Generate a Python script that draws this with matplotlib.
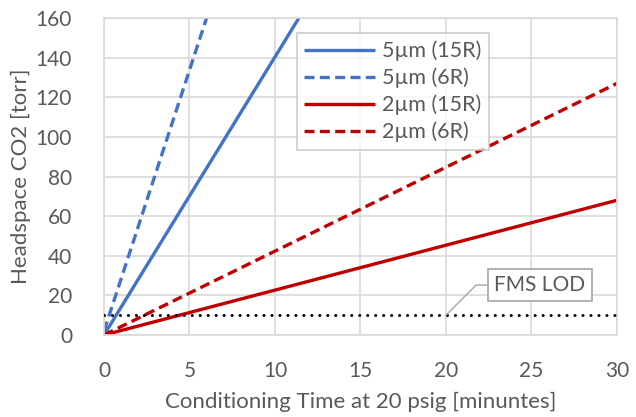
import matplotlib
matplotlib.use('Agg')
import matplotlib.pyplot as plt

plt.rcParams['font.family'] = ['Lato', 'DejaVu Sans']

# series (time in minutes, headspace CO2 in torr)
t_5um_15r = [0, 11.4]
p_5um_15r = [0, 160]
t_5um_6r = [0, 6.0]
p_5um_6r = [2, 160]
t_2um_15r = [0, 30]
p_2um_15r = [0, 68]
t_2um_6r = [0, 30]
p_2um_6r = [0, 127]
lod = 10
lod_x = 20

blue = '#4472C4'
red = '#C00000'
grey = '#595959'
grid = '#D9D9D9'

fig = plt.figure(figsize=(6.36, 4.17), dpi=100)
ax = fig.add_axes([0.1635, 0.1966, 0.8065, 0.7602])

ax.plot(t_5um_15r, p_5um_15r, color=blue, lw=2.4, label='5µm (15R)', solid_capstyle='butt')
ax.plot(t_5um_6r, p_5um_6r, color=blue, lw=2.4, ls=(0, (3, 1.6)), label='5µm (6R)')
ax.plot(t_2um_15r, p_2um_15r, color=red, lw=2.4, label='2µm (15R)', solid_capstyle='butt')
ax.plot(t_2um_6r, p_2um_6r, color=red, lw=2.4, ls=(0, (3, 1.6)), label='2µm (6R)')
ax.axhline(lod, color='black', lw=2.2, ls=(0, (0.01, 2.6)), dash_capstyle='round', zorder=3)

ax.set_xlim(0, 30)
ax.set_ylim(0, 160)
ax.set_xticks(range(0, 31, 5))
ax.set_yticks(range(0, 161, 20))
ax.grid(True, color=grid, lw=1.2)
ax.set_axisbelow(True)
for s in ax.spines.values():
    s.set_color(grid)
    s.set_linewidth(1.2)
ax.tick_params(length=0, labelsize=15, labelcolor=grey)
ax.tick_params(axis='x', pad=18.5)
ax.tick_params(axis='y', pad=23)
ax.set_xlabel('Conditioning Time at 20 psig [minuntes]', fontsize=16, color=grey, labelpad=8)
ax.set_ylabel('Headspace CO2 [torr]', fontsize=16, color=grey, labelpad=3)

leg = ax.legend(loc='upper left', bbox_to_anchor=(0.376, 0.953), fontsize=15.5,
                frameon=True, fancybox=False, handlelength=3.3, borderpad=0.35,
                labelspacing=0.3, handletextpad=0.3, borderaxespad=0)
leg.get_frame().set_edgecolor('#BFBFBF')
leg.get_frame().set_linewidth(1.2)
for txt in leg.get_texts():
    txt.set_color(grey)

ax.annotate('FMS LOD', xy=(lod_x, lod), xytext=(25.5, 25.2), fontsize=15, color=grey,
            ha='center', va='center',
            bbox=dict(boxstyle='square,pad=0.3', fc='white', ec='#A6A6A6', lw=1.2),
            arrowprops=dict(arrowstyle='-', color='#A6A6A6', lw=1,
                            connectionstyle='angle,angleA=0,angleB=45,rad=0',
                            shrinkA=0, shrinkB=0))

plt.savefig('out.png', dpi=100)
